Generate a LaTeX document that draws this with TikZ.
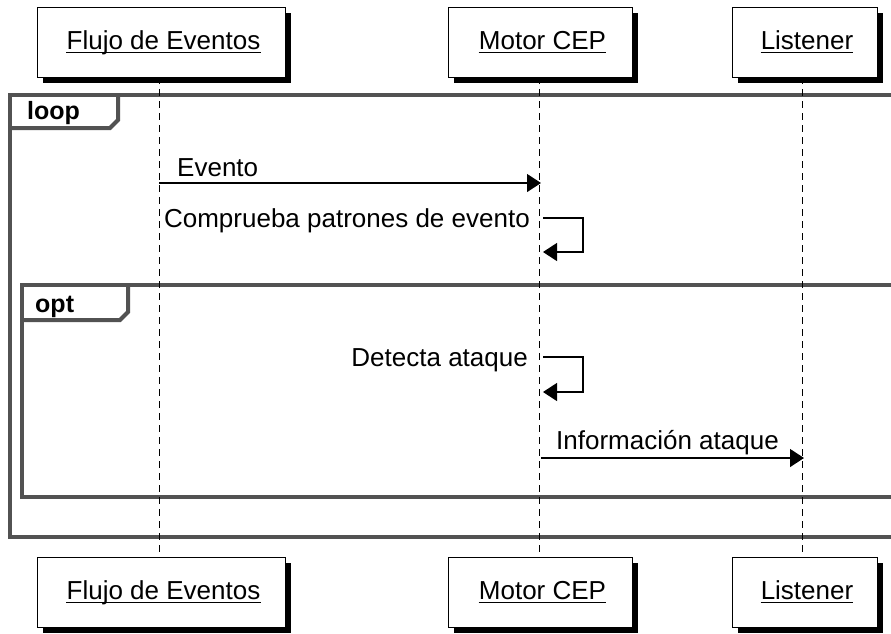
\documentclass[tikz,border=0pt]{standalone}
\usepackage{fontspec}
\setmainfont{Liberation Sans}
\usetikzlibrary{arrows.meta,calc}
\newcommand{\ulname}[1]{\tikz[baseline=0pt,x=1pt,y=1pt]{\node[inner sep=0pt,anchor=base] (u) at (0,0) {#1};\draw[line width=1.3pt] (u.base west)++(0,-3.5) -- ($(u.base east)+(0,-3.5)$);}}
\begin{document}
\begin{tikzpicture}[x=1pt,y=-1pt,
  txt/.style={font=\fontsize{26}{30}\selectfont, inner sep=0pt},
  actor/.style={draw=black, line width=1pt, fill=white, minimum height=70pt, inner sep=0pt},
  shadowbox/.style={fill=black},
  lifeline/.style={draw=black, line width=1pt, dash pattern=on 7pt off 5pt},
  frame/.style={draw=black!68, line width=4pt},
  msg/.style={draw=black, line width=1.2pt, -{Triangle[length=14pt,width=18pt]}},
  lbl/.style={font=\fontsize{25}{29}\selectfont\bfseries, inner sep=0pt}
]
\useasboundingbox (0,0) rectangle (891,633);
\fill[white] (0,0) rectangle (891,633);

% combined fragments
\draw[frame] (10,95) rectangle (895,537);
\draw[frame] (10,128) -- (110,128) -- (118,120) -- (118,95);
\node[lbl, anchor=base west] (loopl) at (27,119) {loop};
\draw[frame] (22,285) rectangle (895,497);
\draw[frame] (22,320) -- (120,320) -- (128,312) -- (128,285);
\node[lbl, anchor=base west] (optl) at (35,312) {opt};

% participant boxes, top and bottom
\foreach \n/\xa/\xb/\t/\ya in {ft/37/285/{Flujo de Eventos}/7, mt/448/632/{Motor CEP}/7, lt/732/877/{Listener}/7,
                               fb/37/285/{Flujo de Eventos}/557, mb/448/632/{Motor CEP}/557, lb/732/877/{Listener}/557}{
  \fill[shadowbox] (\xa+6,\ya+6) rectangle (\xb+6,\ya+76);
  \node[actor, anchor=north west, minimum width=\xb-\xa] (\n) at (\xa,\ya) {};
  \node[txt, anchor=base] (\n t) at ($(\n.north)+(2,42)$) {\ulname{\t}};
}

% lifelines
\coordinate (fa) at (159,77);  \coordinate (fz) at (159,557);
\coordinate (ma) at (539,77);  \coordinate (mz) at (539,557);
\coordinate (la) at (802,77);  \coordinate (lz) at (802,557);
\draw[lifeline] (fa) -- (fz);
\draw[lifeline] (ma) -- (mz);
\draw[lifeline] (la) -- (lz);

% messages
\coordinate (e1) at (159,183); \coordinate (e2) at (541,183);
\draw[msg] (e1) -- (e2);
\node[txt, anchor=base west] (evt) at (177,176) {Evento};

\coordinate (c1) at (543,218); \coordinate (c2) at (543,252);
\draw[msg] (c1) -- ++(40,0) |- (c2);
\node[txt, anchor=base east] (cmp) at (530,227) {Comprueba patrones de evento};

\coordinate (d1) at (543,357); \coordinate (d2) at (543,392);
\draw[msg] (d1) -- ++(40,0) |- (d2);
\node[txt, anchor=base east] (det) at (528,366) {Detecta ataque};

\coordinate (i1) at (541,458); \coordinate (i2) at (804,458);
\draw[msg] (i1) -- (i2);
\node[txt, anchor=base west] (inf) at (556,449) {Información ataque};
\end{tikzpicture}
\end{document}
